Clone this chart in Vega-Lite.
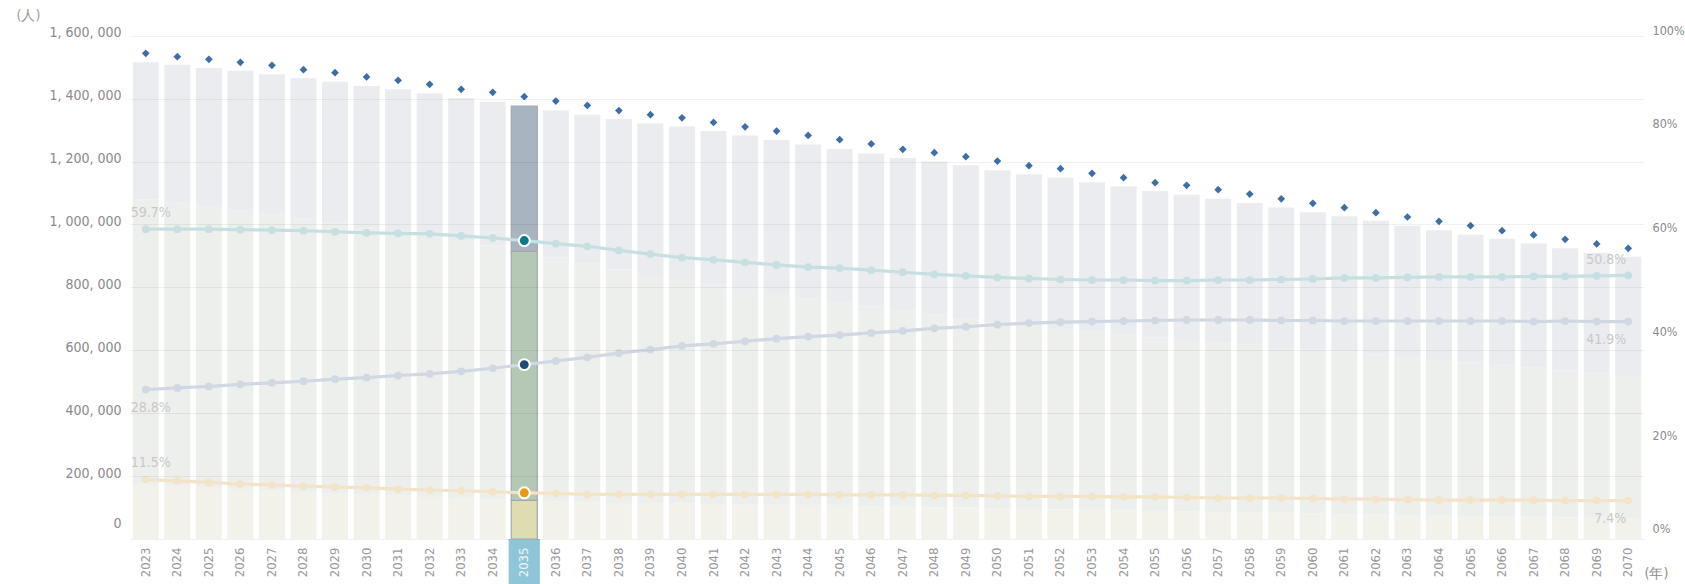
{
"$schema":"https://vega.github.io/schema/vega-lite/v6.json",
"width":1514,"height":519,
"autosize":{"type":"none"},
"padding":{"left":130,"top":20,"right":41,"bottom":45},
"background":"white",
"config":{"view":{"stroke":null},"font":"DejaVu Sans Condensed","axis":{"domain":false,"ticks":false,"labelFont":"DejaVu Sans Condensed","titleFont":"DejaVu Sans Condensed"}},
"datasets":{
"pop":[
{"year":2023,"g":"0-14歳","pop":174300,"share":0.115},{"year":2023,"g":"15-64歳","pop":904700,"share":0.597},{"year":2023,"g":"65歳以上","pop":436500,"share":0.288},
{"year":2024,"g":"0-14歳","pop":168900,"share":0.112},{"year":2024,"g":"15-64歳","pop":900200,"share":0.597},{"year":2024,"g":"65歳以上","pop":438800,"share":0.291},
{"year":2025,"g":"0-14歳","pop":163200,"share":0.109},{"year":2025,"g":"15-64歳","pop":894000,"share":0.597},{"year":2025,"g":"65歳以上","pop":440200,"share":0.294},
{"year":2026,"g":"0-14歳","pop":157800,"share":0.106},{"year":2026,"g":"15-64歳","pop":887300,"share":0.596},{"year":2026,"g":"65歳以上","pop":443700,"share":0.298},
{"year":2027,"g":"0-14歳","pop":153600,"share":0.104},{"year":2027,"g":"15-64歳","pop":879100,"share":0.595},{"year":2027,"g":"65歳以上","pop":444700,"share":0.301},
{"year":2028,"g":"0-14歳","pop":149400,"share":0.102},{"year":2028,"g":"15-64歳","pop":870000,"share":0.594},{"year":2028,"g":"65歳以上","pop":445300,"share":0.304},
{"year":2029,"g":"0-14歳","pop":145400,"share":0.100},{"year":2029,"g":"15-64歳","pop":860700,"share":0.592},{"year":2029,"g":"65歳以上","pop":447800,"share":0.308},
{"year":2030,"g":"0-14歳","pop":142600,"share":0.099},{"year":2030,"g":"15-64歳","pop":849600,"share":0.590},{"year":2030,"g":"65歳以上","pop":447800,"share":0.311},
{"year":2031,"g":"0-14歳","pop":137300,"share":0.096},{"year":2031,"g":"15-64歳","pop":842200,"share":0.589},{"year":2031,"g":"65歳以上","pop":450500,"share":0.315},
{"year":2032,"g":"0-14歳","pop":133200,"share":0.094},{"year":2032,"g":"15-64歳","pop":833200,"share":0.588},{"year":2032,"g":"65歳以上","pop":450600,"share":0.318},
{"year":2033,"g":"0-14歳","pop":130300,"share":0.093},{"year":2033,"g":"15-64歳","pop":818200,"share":0.584},{"year":2033,"g":"65歳以上","pop":452500,"share":0.323},
{"year":2034,"g":"0-14歳","pop":126500,"share":0.091},{"year":2034,"g":"15-64歳","pop":806200,"share":0.580},{"year":2034,"g":"65歳以上","pop":457300,"share":0.329},
{"year":2035,"g":"0-14歳","pop":122500,"share":0.089},{"year":2035,"g":"15-64歳","pop":791600,"share":0.575},{"year":2035,"g":"65歳以上","pop":462500,"share":0.336},
{"year":2036,"g":"0-14歳","pop":119900,"share":0.088},{"year":2036,"g":"15-64歳","pop":774900,"share":0.569},{"year":2036,"g":"65歳以上","pop":467200,"share":0.343},
{"year":2037,"g":"0-14歳","pop":116000,"share":0.086},{"year":2037,"g":"15-64歳","pop":760800,"share":0.564},{"year":2037,"g":"65歳以上","pop":472100,"share":0.350},
{"year":2038,"g":"0-14歳","pop":114800,"share":0.086},{"year":2038,"g":"15-64歳","pop":742300,"share":0.556},{"year":2038,"g":"65歳以上","pop":477900,"share":0.358},
{"year":2039,"g":"0-14歳","pop":113700,"share":0.086},{"year":2039,"g":"15-64歳","pop":725700,"share":0.549},{"year":2039,"g":"65歳以上","pop":482500,"share":0.365},
{"year":2040,"g":"0-14歳","pop":112800,"share":0.086},{"year":2040,"g":"15-64歳","pop":710600,"share":0.542},{"year":2040,"g":"65歳以上","pop":487700,"share":0.372},
{"year":2041,"g":"0-14歳","pop":111600,"share":0.086},{"year":2041,"g":"15-64歳","pop":697800,"share":0.538},{"year":2041,"g":"65歳以上","pop":487700,"share":0.376},
{"year":2042,"g":"0-14歳","pop":110300,"share":0.086},{"year":2042,"g":"15-64歳","pop":683800,"share":0.533},{"year":2042,"g":"65歳以上","pop":488700,"share":0.381},
{"year":2043,"g":"0-14歳","pop":109100,"share":0.086},{"year":2043,"g":"15-64歳","pop":669800,"share":0.528},{"year":2043,"g":"65歳以上","pop":489600,"share":0.386},
{"year":2044,"g":"0-14歳","pop":107900,"share":0.086},{"year":2044,"g":"15-64歳","pop":657200,"share":0.524},{"year":2044,"g":"65歳以上","pop":489100,"share":0.390},
{"year":2045,"g":"0-14歳","pop":105400,"share":0.085},{"year":2045,"g":"15-64歳","pop":647200,"share":0.522},{"year":2045,"g":"65歳以上","pop":487300,"share":0.393},
{"year":2046,"g":"0-14歳","pop":104200,"share":0.085},{"year":2046,"g":"15-64歳","pop":634800,"share":0.518},{"year":2046,"g":"65歳以上","pop":486600,"share":0.397},
{"year":2047,"g":"0-14歳","pop":102900,"share":0.085},{"year":2047,"g":"15-64歳","pop":622500,"share":0.514},{"year":2047,"g":"65歳以上","pop":485600,"share":0.401},
{"year":2048,"g":"0-14歳","pop":100800,"share":0.084},{"year":2048,"g":"15-64歳","pop":612000,"share":0.510},{"year":2048,"g":"65歳以上","pop":487200,"share":0.406},
{"year":2049,"g":"0-14歳","pop":99800,"share":0.084},{"year":2049,"g":"15-64歳","pop":602400,"share":0.507},{"year":2049,"g":"65歳以上","pop":485900,"share":0.409},
{"year":2050,"g":"0-14歳","pop":97300,"share":0.083},{"year":2050,"g":"15-64歳","pop":590800,"share":0.504},{"year":2050,"g":"65歳以上","pop":484100,"share":0.413},
{"year":2051,"g":"0-14歳","pop":95100,"share":0.082},{"year":2051,"g":"15-64歳","pop":582000,"share":0.502},{"year":2051,"g":"65歳以上","pop":482300,"share":0.416},
{"year":2052,"g":"0-14歳","pop":94200,"share":0.082},{"year":2052,"g":"15-64歳","pop":574300,"share":0.500},{"year":2052,"g":"65歳以上","pop":480200,"share":0.418},
{"year":2053,"g":"0-14歳","pop":93000,"share":0.082},{"year":2053,"g":"15-64歳","pop":565900,"share":0.499},{"year":2053,"g":"65歳以上","pop":475100,"share":0.419},
{"year":2054,"g":"0-14歳","pop":90800,"share":0.081},{"year":2054,"g":"15-64歳","pop":559600,"share":0.499},{"year":2054,"g":"65歳以上","pop":470900,"share":0.420},
{"year":2055,"g":"0-14歳","pop":89600,"share":0.081},{"year":2055,"g":"15-64歳","pop":551000,"share":0.498},{"year":2055,"g":"65歳以上","pop":465800,"share":0.421},
{"year":2056,"g":"0-14歳","pop":87600,"share":0.080},{"year":2056,"g":"15-64歳","pop":545100,"share":0.498},{"year":2056,"g":"65歳以上","pop":461900,"share":0.422},
{"year":2057,"g":"0-14歳","pop":85500,"share":0.079},{"year":2057,"g":"15-64歳","pop":539800,"share":0.499},{"year":2057,"g":"65歳以上","pop":456600,"share":0.422},
{"year":2058,"g":"0-14歳","pop":84400,"share":0.079},{"year":2058,"g":"15-64歳","pop":533000,"share":0.499},{"year":2058,"g":"65歳以上","pop":450800,"share":0.422},
{"year":2059,"g":"0-14歳","pop":83300,"share":0.079},{"year":2059,"g":"15-64歳","pop":526900,"share":0.500},{"year":2059,"g":"65歳以上","pop":443700,"share":0.421},
{"year":2060,"g":"0-14歳","pop":81000,"share":0.078},{"year":2060,"g":"15-64歳","pop":520400,"share":0.501},{"year":2060,"g":"65歳以上","pop":437300,"share":0.421},
{"year":2061,"g":"0-14歳","pop":79000,"share":0.077},{"year":2061,"g":"15-64歳","pop":516000,"share":0.503},{"year":2061,"g":"65歳以上","pop":430900,"share":0.420},
{"year":2062,"g":"0-14歳","pop":77900,"share":0.077},{"year":2062,"g":"15-64歳","pop":509000,"share":0.503},{"year":2062,"g":"65歳以上","pop":425000,"share":0.420},
{"year":2063,"g":"0-14歳","pop":75700,"share":0.076},{"year":2063,"g":"15-64歳","pop":502000,"share":0.504},{"year":2063,"g":"65歳以上","pop":418300,"share":0.420},
{"year":2064,"g":"0-14歳","pop":73600,"share":0.075},{"year":2064,"g":"15-64歳","pop":495600,"share":0.505},{"year":2064,"g":"65歳以上","pop":412200,"share":0.420},
{"year":2065,"g":"0-14歳","pop":72600,"share":0.075},{"year":2065,"g":"15-64歳","pop":488500,"share":0.505},{"year":2065,"g":"65歳以上","pop":406300,"share":0.420},
{"year":2066,"g":"0-14歳","pop":71600,"share":0.075},{"year":2066,"g":"15-64歳","pop":482100,"share":0.505},{"year":2066,"g":"65歳以上","pop":401000,"share":0.420},
{"year":2067,"g":"0-14歳","pop":70500,"share":0.075},{"year":2067,"g":"15-64歳","pop":475700,"share":0.506},{"year":2067,"g":"65歳以上","pop":393900,"share":0.419},
{"year":2068,"g":"0-14歳","pop":68400,"share":0.074},{"year":2068,"g":"15-64歳","pop":467600,"share":0.506},{"year":2068,"g":"65歳以上","pop":388200,"share":0.420},
{"year":2069,"g":"0-14歳","pop":67400,"share":0.074},{"year":2069,"g":"15-64歳","pop":461400,"share":0.507},{"year":2069,"g":"65歳以上","pop":381400,"share":0.419},
{"year":2070,"g":"0-14歳","pop":66400,"share":0.074},{"year":2070,"g":"15-64歳","pop":455000,"share":0.508},{"year":2070,"g":"65歳以上","pop":376100,"share":0.419}
],
"tot":[
{"year":2023,"v":1544200},{"year":2024,"v":1533300},{"year":2025,"v":1525100},{"year":2026,"v":1515500},{"year":2027,"v":1506000},{"year":2028,"v":1492000},{"year":2029,"v":1482500},{"year":2030,"v":1468800},{"year":2031,"v":1458300},{"year":2032,"v":1445600},{"year":2033,"v":1429700},{"year":2034,"v":1420200},{"year":2035,"v":1406200},{"year":2036,"v":1392200},{"year":2037,"v":1378200},{"year":2038,"v":1362000},{"year":2039,"v":1348900},{"year":2040,"v":1339100},{"year":2041,"v":1324200},{"year":2042,"v":1310500},{"year":2043,"v":1296800},{"year":2044,"v":1283100},{"year":2045,"v":1269500},{"year":2046,"v":1255800},{"year":2047,"v":1238900},{"year":2048,"v":1228100},{"year":2049,"v":1215400},{"year":2050,"v":1201700},{"year":2051,"v":1186800},{"year":2052,"v":1177300},{"year":2053,"v":1162600},{"year":2054,"v":1148700},{"year":2055,"v":1132800},{"year":2056,"v":1124500},{"year":2057,"v":1110500},{"year":2058,"v":1096800},{"year":2059,"v":1081600},{"year":2060,"v":1067300},{"year":2061,"v":1053300},{"year":2062,"v":1037400},{"year":2063,"v":1023700},{"year":2064,"v":1010000},{"year":2065,"v":996000},{"year":2066,"v":980100},{"year":2067,"v":966500},{"year":2068,"v":952800},{"year":2069,"v":937900},{"year":2070,"v":924200}
]
},
"encoding":{"x":{"field":"year","type":"ordinal","scale":{"paddingInner":0.175,"paddingOuter":0.0875},
"axis":{"labelAngle":-90,"labelFontSize":13,"labelPadding":8,"labelColor":{"condition":{"test":"datum.value == 2035","value":"#eef6f9"},"value":"#9a9a9a"},"zindex":1,
"title":"(年)","titleAngle":0,"titleX":1526,"titleY":34,"titleAlign":"center","titleBaseline":"middle","titleFontSize":14,"titleFontWeight":"normal","titleColor":"#8a8a8a"}}},
"layer":[
{"layer":[
{"data":{"name":"pop"},"mark":{"type":"bar"},
"encoding":{"y":{"field":"pop","type":"quantitative","stack":"zero","scale":{"domain":[0,1650000],"nice":false,"zero":true},
"axis":{"values":[0,200000,400000,600000,800000,1000000,1200000,1400000,1600000],"labelExpr":"join(split(format(datum.value, ','), ','), ', ')","labelFontSize":14,"labelColor":"#8a8a8a","labelPadding":9,"labelOffset":-3,"labelFlush":true,"labelFlushOffset":-6,"grid":true,"gridColor":"#000000","gridOpacity":0.06,"zindex":1,
"title":"(人)","titleAngle":0,"titleX":-102,"titleY":-5,"titleAlign":"center","titleBaseline":"middle","titleFontSize":14,"titleFontWeight":"normal","titleColor":"#999999"}},
"color":{"field":"g","type":"nominal","scale":{"domain":["0-14歳","15-64歳","65歳以上"],"range":["#f2f2ea","#edefec","#ebecef"]},"legend":null},
"order":{"field":"g","sort":"ascending"}}},
{"data":{"name":"pop"},"transform":[{"filter":"datum.year == 2035"}],"mark":{"type":"bar","stroke":"#a3a7ab","strokeWidth":1.2},
"encoding":{"y":{"field":"pop","type":"quantitative","stack":"zero"},
"fill":{"field":"g","type":"nominal","scale":{"domain":["0-14歳","15-64歳","65歳以上"],"range":["#dfdcb1","#b4c8b5","#a9b4c1"]},"legend":null},
"order":{"field":"g","sort":"ascending"}}},
{"data":{"name":"tot"},"mark":{"type":"point","shape":"diamond","filled":true,"color":"#3d6fa6","size":60,"opacity":1},
"encoding":{"y":{"field":"v","type":"quantitative"}}},
{"data":{"name":"tot"},"transform":[{"filter":"datum.year == 2035"}],"mark":{"type":"bar","color":"#8ec5d7","clip":false,"width":{"band":1.2}},
"encoding":{"y":{"datum":0,"type":"quantitative"},"y2":{"datum":-146000}}}
]},
{"layer":[
{"data":{"name":"pop"},"mark":{"type":"line","strokeWidth":3.2},
"encoding":{"y":{"field":"share","type":"quantitative","scale":{"domain":[0,1],"nice":false},
"axis":{"orient":"right","values":[0,0.2,0.4,0.6,0.8,1],"format":".0%","labelFontSize":12.5,"labelColor":"#8a8a8a","labelPadding":8,"labelFlush":true,"labelFlushOffset":-4,"grid":false,"title":null}},
"color":{"field":"g","type":"nominal","scale":{"domain":["0-14歳","15-64歳","65歳以上"],"range":["#f3e4c8","#c6dfe2","#cfd8e3"]},"legend":null}}},
{"data":{"name":"pop"},"mark":{"type":"circle","size":60,"opacity":1},
"encoding":{"y":{"field":"share","type":"quantitative"},"color":{"field":"g","type":"nominal","legend":null}}},
{"data":{"name":"pop"},"transform":[{"filter":"datum.year == 2035"}],"mark":{"type":"circle","size":120,"opacity":1,"stroke":"#ffffff","strokeWidth":2},
"encoding":{"y":{"field":"share","type":"quantitative"},"fill":{"field":"g","type":"nominal","scale":{"domain":["0-14歳","15-64歳","65歳以上"],"range":["#e8990f","#027c87","#204b7b"]},"legend":null}}},
{"data":{"values":[{"year":2023,"share":0.597,"t":"59.7%"},{"year":2023,"share":0.115,"t":"11.5%"}]},
"mark":{"type":"text","align":"left","baseline":"middle","dx":-15,"dy":-16,"fontSize":14,"color":"#c8c8c8"},
"encoding":{"y":{"field":"share","type":"quantitative"},"text":{"field":"t"}}},
{"data":{"values":[{"year":2023,"share":0.288,"t":"28.8%"}]},
"mark":{"type":"text","align":"left","baseline":"middle","dx":-15,"dy":18,"fontSize":14,"color":"#c8c8c8"},
"encoding":{"y":{"field":"share","type":"quantitative"},"text":{"field":"t"}}},
{"data":{"values":[{"year":2070,"share":0.508,"t":"50.8%"}]},
"mark":{"type":"text","align":"right","baseline":"middle","dx":-2,"dy":-15,"fontSize":14,"color":"#c8c8c8"},
"encoding":{"y":{"field":"share","type":"quantitative"},"text":{"field":"t"}}},
{"data":{"values":[{"year":2070,"share":0.419,"t":"41.9%"},{"year":2070,"share":0.074,"t":"7.4%"}]},
"mark":{"type":"text","align":"right","baseline":"middle","dx":-2,"dy":18,"fontSize":14,"color":"#c8c8c8"},
"encoding":{"y":{"field":"share","type":"quantitative"},"text":{"field":"t"}}}
]}
],
"resolve":{"scale":{"y":"independent","color":"independent","fill":"independent"}}
}
